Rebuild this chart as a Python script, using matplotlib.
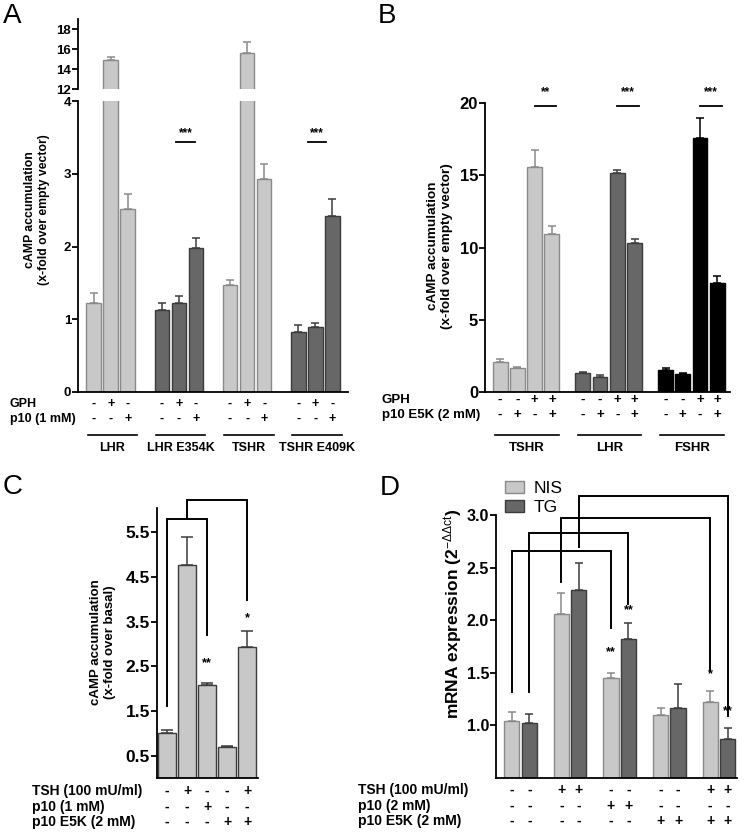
import matplotlib.pyplot as plt
import matplotlib.transforms as mtransforms

plt.rcParams['font.family'] = ['Liberation Sans', 'DejaVu Sans']
plt.rcParams['mathtext.fontset'] = 'custom'
plt.rcParams['mathtext.rm'] = 'Liberation Sans'
plt.rcParams['mathtext.it'] = 'Liberation Sans'
plt.rcParams['mathtext.bf'] = 'Liberation Sans:bold'

LIGHT = "#c8c8c8"; DARK = "#676767"; BLACK = "#000000"
LEDGE = "#8a8a8a"; DEDGE = "#3c3c3c"

# ---- panel A
A_groups = ["LHR", "LHR E354K", "TSHR", "TSHR E409K"]
A_vals = [1.23, 14.87, 2.52, 1.13, 1.22, 1.98, 1.47, 15.6, 2.93, 0.82, 0.90, 2.42]
A_err = [0.13, 0.3, 0.2, 0.09, 0.1, 0.13, 0.07, 1.1, 0.2, 0.1, 0.05, 0.23]
A_gph = ["-", "+", "-"] * 4
A_p10 = ["-", "-", "+"] * 4

# ---- panel B
B_groups = ["TSHR", "LHR", "FSHR"]
B_vals = [2.05, 1.65, 15.6, 10.9, 1.3, 1.05, 15.15, 10.33, 1.55, 1.25, 17.55, 7.55]
B_err = [0.21, 0.05, 1.15, 0.6, 0.1, 0.1, 0.21, 0.25, 0.08, 0.08, 1.43, 0.5]
B_gph = ["-", "-", "+", "+"] * 3
B_e5k = ["-", "+", "-", "+"] * 3

# ---- panel C
C_vals = [1.0, 4.77, 2.08, 0.7, 2.92]
C_err = [0.08, 0.63, 0.05, 0.02, 0.36]
C_tsh = ["-", "+", "-", "-", "+"]
C_p10 = ["-", "-", "+", "-", "-"]
C_e5k = ["-", "-", "-", "+", "+"]

# ---- panel D
D_nis = [1.04, 2.06, 1.45, 1.10, 1.22]
D_nis_err = [0.09, 0.2, 0.05, 0.07, 0.11]
D_tg = [1.02, 2.29, 1.82, 1.17, 0.87]
D_tg_err = [0.09, 0.25, 0.15, 0.22, 0.11]
D_tsh = ["-", "+", "-", "-", "+"]
D_p10 = ["-", "-", "+", "-", "-"]
D_e5k = ["-", "-", "-", "+", "+"]

W, H = 745, 833
fig = plt.figure(figsize=(W / 100, H / 100), dpi=100)


def px_axes(l, t, r, b):
    return fig.add_axes([l / W, 1 - b / H, (r - l) / W, (b - t) / H])


def style(ax, size):
    for s in ["top", "right"]:
        ax.spines[s].set_visible(False)
    for s in ["left", "bottom"]:
        ax.spines[s].set_linewidth(1.3)
    ax.tick_params(axis="y", direction="out", length=4, width=1.3, labelsize=size, pad=1)
    ax.tick_params(axis="x", bottom=False, labelbottom=False)
    for lab in ax.get_yticklabels():
        lab.set_fontweight("bold")


def bars(ax, x, vals, errs, colors, edges, width=0.86, cap=2.6):
    ax.bar(x, vals, width=width, color=colors, edgecolor=edges, linewidth=1.0, zorder=2)
    for xi, v, e, ec in zip(x, vals, errs, edges):
        ax.errorbar(xi, v, yerr=[[0], [e]], fmt="none", ecolor=ec, elinewidth=1.1,
                    capsize=cap, capthick=1.1, zorder=1)


def row(ax, x, signs, ypx, size):
    tr = mtransforms.blended_transform_factory(ax.transData, fig.transFigure)
    for xi, s in zip(x, signs):
        ax.text(xi, 1 - ypx / H, s, transform=tr, ha="center", va="center",
                fontsize=size, fontweight="bold", clip_on=False)


def label(xpx, ypx, s, size, **kw):
    fig.text(xpx / W, 1 - ypx / H, s, fontsize=size, va="center", **kw)


def underline(ax, x0, x1, ypx):
    tr = mtransforms.blended_transform_factory(ax.transData, fig.transFigure)
    ax.plot([x0, x1], [1 - ypx / H] * 2, color="black", lw=1.2, transform=tr, clip_on=False)


def bracket(ax, x0, x1, y, y0, y1, lw=1.4):
    ax.plot([x0, x0, x1, x1], [y0, y, y, y1], color="black", lw=lw, clip_on=False,
            solid_joinstyle="miter", zorder=3)


# ================= A
A_x = [g * 4 + i for g in range(4) for i in range(3)]
A_col = [LIGHT if g % 2 == 0 else DARK for g in range(4) for i in range(3)]
A_edge = [LEDGE if g % 2 == 0 else DEDGE for g in range(4) for i in range(3)]
axA = px_axes(78, 101, 348, 392)
axA2 = px_axes(78, 19, 348, 89)
for ax in (axA, axA2):
    bars(ax, A_x, A_vals, A_err, A_col, A_edge)
    ax.set_xlim(-0.92, 14.92)
axA.set_ylim(0, 4)
axA.set_yticks([0, 1, 2, 3, 4])
axA2.set_ylim(12, 19)
axA2.set_yticks([12, 14, 16, 18])
style(axA, 9.5)
style(axA2, 9.5)
axA2.spines["bottom"].set_visible(False)
for x0, x1, xs in [(4.8, 5.95, 5.4), (12.6, 13.65, 13.1)]:
    axA.plot([x0, x1], [3.43, 3.43], color="black", lw=1.3)
    axA.text(xs, 3.56, "***", ha="center", va="center", fontsize=8.5, fontweight="bold")
row(axA, A_x, A_gph, 404, 9)
row(axA, A_x, A_p10, 419, 9)
label(10, 404, "GPH", 9, fontweight="bold")
label(10, 419, "p10 (1 mM)", 9, fontweight="bold")
tr = mtransforms.blended_transform_factory(axA.transData, fig.transFigure)
for g, name in enumerate(A_groups):
    underline(axA, g * 4 - 0.35, g * 4 + 2.55, 435)
    axA.text(g * 4 + 1.1, 1 - 448 / H, name, transform=tr, ha="center", va="center",
             fontsize=9, fontweight="bold")
label(37, 210, "cAMP accumulation\n(x-fold over empty vector)", 8.8, fontweight="bold",
      rotation=90, ha="center", multialignment="center")
label(3, 16, "A", 20)

# ================= B
B_x = [g * 4.8 + i for g in range(3) for i in range(4)]
B_col = [c for c in (LIGHT, DARK, BLACK) for i in range(4)]
B_edge = [c for c in (LEDGE, DEDGE, BLACK) for i in range(4)]
axB = px_axes(485, 103, 730, 392)
bars(axB, B_x, B_vals, B_err, B_col, B_edge)
axB.set_xlim(-0.88, 13.34)
axB.set_ylim(0, 20)
axB.set_yticks([0, 5, 10, 15, 20])
style(axB, 12)
trB = mtransforms.blended_transform_factory(axB.transData, fig.transFigure)
for g, name in enumerate(B_groups):
    o = g * 4.8
    axB.plot([o + 2.0, o + 3.25], [19.8, 19.8], color="black", lw=1.3, clip_on=False)
    axB.text(o + 2.62, 20.75, "**" if g == 0 else "***", ha="center", va="center",
             fontsize=8.5, fontweight="bold")
    underline(axB, o - 0.3, o + 3.4, 435)
    axB.text(o + 1.55, 1 - 448 / H, name, transform=trB, ha="center", va="center",
             fontsize=9.5, fontweight="bold")
row(axB, B_x, B_gph, 400, 9.5)
row(axB, B_x, B_e5k, 415, 9.5)
label(382, 400, "GPH", 9.5, fontweight="bold")
label(382, 415, "p10 E5K (2 mM)", 9.5, fontweight="bold")
label(440, 246, "cAMP accumulation\n(x-fold over empty vector)", 9.7, fontweight="bold",
      rotation=90, ha="center", multialignment="center")
label(378, 16, "B", 20)

# ================= C
C_x = list(range(5))
axC = px_axes(157, 508, 258, 778)
bars(axC, C_x, C_vals, C_err, [LIGHT] * 5, [DEDGE] * 5, width=0.88, cap=4.2)
axC.set_xlim(-0.5, 4.55)
axC.set_ylim(0, 6.04)
axC.set_yticks([0.5, 1.5, 2.5, 3.5, 4.5, 5.5])
style(axC, 12.5)
bracket(axC, 0, 2, 5.79, 1.62, 3.19)
bracket(axC, 1, 4, 6.22, 5.79, 3.98)
axC.text(2, 2.56, "**", ha="center", va="center", fontsize=9, fontweight="bold")
axC.text(4, 3.57, "*", ha="center", va="center", fontsize=9, fontweight="bold")
row(axC, C_x, C_tsh, 791, 10)
row(axC, C_x, C_p10, 807, 10)
row(axC, C_x, C_e5k, 822, 10)
label(32, 791, "TSH (100 mU/ml)", 10, fontweight="bold")
label(32, 807, "p10 (1 mM)", 10, fontweight="bold")
label(32, 822, "p10 E5K (2 mM)", 10, fontweight="bold")
label(103, 642, "cAMP accumulation\n(x-fold over basal)", 9.5, fontweight="bold",
      rotation=90, ha="center", multialignment="center")
label(3, 487, "C", 20)

# ================= D
D_xn = [g * 2.83 for g in range(5)]
D_xt = [g * 2.83 + 1 for g in range(5)]
axD = px_axes(496, 515, 737, 778)
bars(axD, D_xn, D_nis, D_nis_err, [LIGHT] * 5, [LEDGE] * 5)
bars(axD, D_xt, D_tg, D_tg_err, [DARK] * 5, [DEDGE] * 5)
axD.set_xlim(-0.91, 12.86)
axD.set_ylim(0.5, 3.0)
axD.set_yticks([1.0, 1.5, 2.0, 2.5, 3.0])
axD.set_yticklabels(["1.0", "1.5", "2.0", "2.5", "3.0"])
style(axD, 11.5)
bracket(axD, D_xn[0], D_xn[2], 2.657, 1.32, 1.93)
bracket(axD, D_xt[0], D_xt[2], 2.825, 1.32, 2.15)
bracket(axD, D_xn[1], D_xn[4], 2.975, 2.36, 1.52)
bracket(axD, D_xt[1], D_xt[4], 3.18, 2.70, 1.09)
for x, y, s in [(D_xn[2], 1.70, "**"), (D_xt[2], 2.10, "**"),
                (D_xn[4], 1.49, "*"), (D_xt[4], 1.14, "**")]:
    axD.text(x, y, s, ha="center", va="center", fontsize=9, fontweight="bold")
D_x = [x for pair in zip(D_xn, D_xt) for x in pair]
row(axD, D_x, [s for s in D_tsh for _ in range(2)], 790, 10)
row(axD, D_x, [s for s in D_p10 for _ in range(2)], 806, 10)
row(axD, D_x, [s for s in D_e5k for _ in range(2)], 821, 10)
label(358, 790, "TSH (100 mU/ml)", 10, fontweight="bold")
label(358, 806, "p10 (2 mM)", 10, fontweight="bold")
label(358, 821, "p10 E5K (2 mM)", 10, fontweight="bold")
label(453, 614, r"mRNA expression (2$^{-\Delta\Delta ct}$)", 12.5, fontweight="bold",
      rotation=90, ha="center")
label(380, 488, "D", 20)
h1 = plt.Rectangle((0, 0), 1, 1, facecolor=LIGHT, edgecolor=LEDGE)
h2 = plt.Rectangle((0, 0), 1, 1, facecolor=DARK, edgecolor=DEDGE)
axD.legend([h1, h2], ["NIS", "TG"], loc="upper left", frameon=False, fontsize=12.5,
           bbox_to_anchor=(503 / W, 1 - 479 / H), bbox_transform=fig.transFigure,
           handlelength=1.1, handleheight=0.75, handletextpad=0.55, labelspacing=0.2,
           borderaxespad=0, borderpad=0.1)

fig.savefig("out.png", dpi=100, facecolor="white")
